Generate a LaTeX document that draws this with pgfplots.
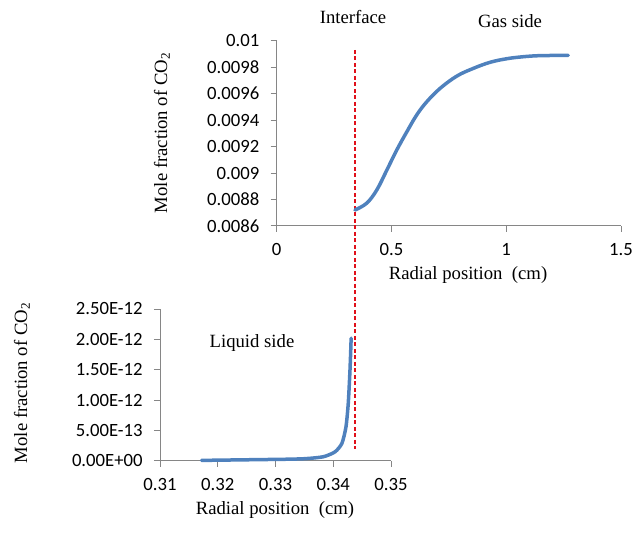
\documentclass[border=0pt]{standalone}
\usepackage{fontspec}
\setmainfont{Liberation Serif}
\newfontfamily\carlito{Carlito}
\usepackage{pgfplots}
\pgfplotsset{compat=1.18}
\definecolor{exblue}{HTML}{4F81BD}
\definecolor{exgray}{HTML}{868686}
\definecolor{exred}{HTML}{E0101A}
\begin{document}
\fontsize{18.7}{22}\selectfont
\begin{tikzpicture}[x=1pt,y=1pt]
\path[use as bounding box] (0,0) rectangle (632,533);
\pgfplotsset{
  every axis/.append style={
    scale only axis,
    axis lines*=left,
    axis line style={exgray, line width=1pt},
    tick style={exgray, line width=1pt},
    tick align=outside,
    major tick length=6pt,
    minor tick num=0,
    tick label style={font=\fontsize{18.7}{22}\selectfont\carlito, black},
    xticklabel style={yshift=-5pt},
    yticklabel style={xshift=-5pt},
    clip=false,
  }
}
% ---------- top axis: gas side ----------
\begin{axis}[
  at={(276.7pt,307pt)}, anchor=south west,
  width=344.3pt, height=185.3pt,
  xmin=0, xmax=1.5, ymin=0.0086, ymax=0.01,
  xtick={0,0.5,1,1.5}, xticklabels={0,0.5,1,1.5},
  ytick={0.0086,0.0088,0.009,0.0092,0.0094,0.0096,0.0098,0.01},
  yticklabels={0.0086,0.0088,0.009,0.0092,0.0094,0.0096,0.0098,0.01},
  scaled y ticks=false, scaled x ticks=false,
]
\addplot[exred, line width=1.5pt, dash pattern=on 4pt off 2.5pt] coordinates {(0.341,0.00993) (0.341,0.006915)};
\addplot[exblue, line width=3.5pt, smooth, tension=0.6, line cap=round] coordinates {
(0.341,0.008721) (0.392,0.008772) (0.436,0.008872) (0.480,0.009023) (0.523,0.009174)
(0.567,0.009312) (0.610,0.009439) (0.654,0.009539) (0.712,0.009640) (0.785,0.009733)
(0.857,0.009791) (0.930,0.009837) (1.003,0.009864) (1.075,0.009879) (1.148,0.009887)
(1.27,0.009889)};
\end{axis}
% ---------- bottom axis: liquid side ----------
\begin{axis}[
  at={(160pt,72pt)}, anchor=south west,
  width=231pt, height=152pt,
  xmin=0.31, xmax=0.35, ymin=0, ymax=2.5e-12,
  xtick={0.31,0.32,0.33,0.34,0.35}, xticklabels={0.31,0.32,0.33,0.34,0.35},
  ytick={0,0.5e-12,1e-12,1.5e-12,2e-12,2.5e-12},
  yticklabels={0.00E+00,5.00E-13,1.00E-12,1.50E-12,2.00E-12,2.50E-12},
  scaled y ticks=false, scaled x ticks=false,
]
\addplot[exblue, line width=3.5pt, smooth, tension=0.4, line cap=round] coordinates {
(0.3172,0.01e-12) (0.3250,0.02e-12) (0.3325,0.03e-12) (0.3354,0.04e-12) (0.3383,0.07e-12)
(0.3403,0.15e-12) (0.3415,0.29e-12) (0.3422,0.56e-12) (0.3426,0.95e-12)
(0.3429,1.50e-12) (0.3431,2.02e-12)};
\end{axis}
% ---------- texts ----------
\node at (353,516) {Interface};
\node at (510,512) {Gas side};
\node at (252,190) {Liquid side};
\node[rotate=90] at (162,400) {Mole fraction of CO\textsubscript{2}};
\node[rotate=90] at (22,150) {Mole fraction of CO\textsubscript{2}};
\node at (468,258) {Radial position\ \ (cm)};
\node at (275,23) {Radial position\ \ (cm)};
\end{tikzpicture}
\end{document}
